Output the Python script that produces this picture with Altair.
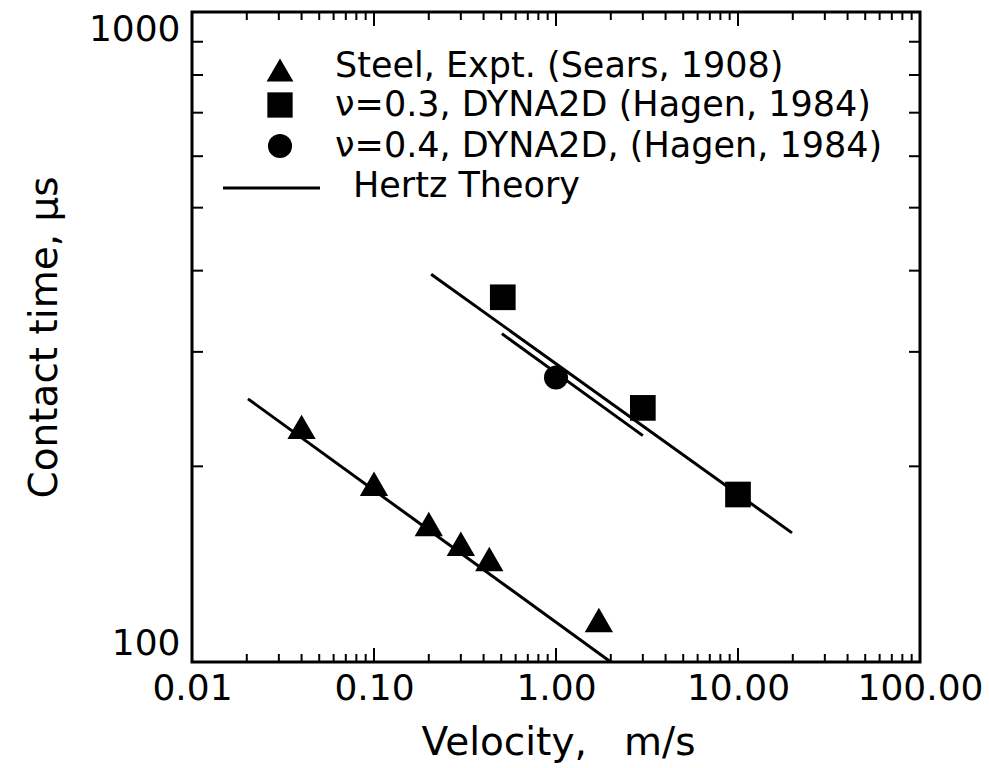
import altair as alt
import pandas as pd

# ---- data ----
steel_v = [0.04, 0.10, 0.20, 0.30, 0.43, 1.72]
steel_t = [230, 188, 163, 152, 144, 116]
nu03_v = [0.51, 3.0, 10.0]
nu03_t = [364, 246, 181]
nu04_v = [1.0]
nu04_t = [274]

hertz_low_v = [0.0203, 2.0]
hertz_low_t = [254, 100]
hertz_up_v = [0.206, 19.8]
hertz_up_t = [395, 158]
hertz_short_v = [0.504, 3.0]
hertz_short_t = [320, 223]

x_label_values = [0.01, 0.1, 1, 10, 100]
y_label_values = [100, 1000]
x_minor = [0.02, 0.03, 0.04, 0.05, 0.06, 0.07, 0.08, 0.09,
           0.2, 0.3, 0.4, 0.5, 0.6, 0.7, 0.8, 0.9,
           2, 3, 4, 5, 6, 7, 8, 9,
           20, 30, 40, 50, 60, 70, 80, 90]
y_minor = [200, 300, 400, 500, 600, 700, 800, 900]

legend_labels = ["Steel, Expt. (Sears, 1908)",
                 "\u03bd=0.3, DYNA2D (Hagen, 1984)",
                 "\u03bd=0.4, DYNA2D, (Hagen, 1984)",
                 "Hertz Theory"]

W, H = 728, 650
FONT = "DejaVu Sans"

xscale = alt.Scale(type="log", domain=[0.01, 100])
yscale = alt.Scale(type="log", domain=[100, 1000])

xaxis = alt.Axis(values=x_label_values, format=".2f", grid=False,
                 domain=False, ticks=False, labelFlush=False,
                 labelFont=FONT, labelFontSize=36, labelColor="black",
                 labelPadding=9,
                 title="Velocity,\u00a0\u00a0\u00a0m/s", titleFont=FONT,
                 titleFontSize=39, titleFontWeight="normal",
                 titleColor="black", titleX=W / 2 + 2, titleY=80,
                 titleBaseline="middle", titleAlign="center")
yaxis = alt.Axis(values=y_label_values, format="d", grid=False,
                 domain=False, ticks=False, labelFlush=True,
                 labelFont=FONT, labelFontSize=36, labelColor="black",
                 labelPadding=12,
                 title="Contact time, \u03bcs", titleFont=FONT,
                 titleFontSize=39, titleFontWeight="normal",
                 titleColor="black", titleAngle=-90, titleX=-148,
                 titleY=H / 2, titleBaseline="middle",
                 titleAlign="center")

steel_df = pd.DataFrame({"v": steel_v, "t": steel_t})
nu03_df = pd.DataFrame({"v": nu03_v, "t": nu03_t})
nu04_df = pd.DataFrame({"v": nu04_v, "t": nu04_t})
lines_df = pd.DataFrame({
    "v": hertz_low_v + hertz_up_v + hertz_short_v,
    "t": hertz_low_t + hertz_up_t + hertz_short_t,
    "seg": ["low"] * 2 + ["up"] * 2 + ["short"] * 2,
})

xmaj_df = pd.DataFrame({"v": x_label_values})
xmin_df = pd.DataFrame({"v": x_minor})
ymin_df = pd.DataFrame({"t": y_minor})

def X():
    return alt.X("v:Q", scale=xscale, axis=xaxis)

def Y():
    return alt.Y("t:Q", scale=yscale, axis=yaxis)

lines = alt.Chart(lines_df).mark_line(color="black", strokeWidth=3, clip=True).encode(
    x=X(), y=Y(), detail="seg:N")

tri = alt.Chart(steel_df).mark_point(shape="triangle-up", filled=True, size=800,
                                     color="black", opacity=1).encode(x=X(), y=Y())
sq = alt.Chart(nu03_df).mark_point(shape="square", filled=True, size=660,
                                   color="black", opacity=1).encode(x=X(), y=Y())
circ = alt.Chart(nu04_df).mark_point(shape="circle", filled=True, size=580,
                                     color="black", opacity=1).encode(x=X(), y=Y())

# inward ticks
def xticks(df, length):
    bottom = alt.Chart(df).mark_rule(color="black", strokeWidth=2).encode(
        x=X(), y=alt.value(H), y2=alt.value(H - length))
    top = alt.Chart(df).mark_rule(color="black", strokeWidth=2).encode(
        x=X(), y=alt.value(0), y2=alt.value(length))
    return [bottom, top]

def yticks(df, length):
    left = alt.Chart(df).mark_rule(color="black", strokeWidth=2).encode(
        y=Y(), x=alt.value(0), x2=alt.value(length))
    right = alt.Chart(df).mark_rule(color="black", strokeWidth=2).encode(
        y=Y(), x=alt.value(W), x2=alt.value(W - length))
    return [left, right]

ticks = xticks(xmaj_df, 14) + xticks(xmin_df, 8) + yticks(ymin_df, 11)

# legend (inside the plot, top-left)
leg_x_sym = 88
leg_x_txt = 143
leg_rows = [54, 93, 134]
leg_df = pd.DataFrame({"label": legend_labels})

def leg_text(i, x, y):
    return alt.Chart(leg_df).transform_filter(
        alt.datum.label == legend_labels[i]
    ).mark_text(font=FONT, fontSize=35, color="black", align="left",
                baseline="middle").encode(
        text="label:N", x=alt.value(x), y=alt.value(y))

def leg_one(i):
    return alt.Chart(leg_df).transform_filter(alt.datum.label == legend_labels[i])

leg_sym_tri = leg_one(0).mark_point(
    shape="triangle-up", filled=True, size=720, color="black", opacity=1).encode(
    x=alt.value(leg_x_sym), y=alt.value(leg_rows[0] + 4))
leg_sym_sq = leg_one(1).mark_point(
    shape="square", filled=True, size=640, color="black", opacity=1).encode(
    x=alt.value(leg_x_sym), y=alt.value(leg_rows[1]))
leg_sym_circ = leg_one(2).mark_point(
    shape="circle", filled=True, size=580, color="black", opacity=1).encode(
    x=alt.value(leg_x_sym), y=alt.value(leg_rows[2]))
leg_line = leg_one(3).mark_rule(color="black", strokeWidth=3).encode(
    x=alt.value(31), x2=alt.value(128), y=alt.value(176))

legend_layers = [leg_text(0, leg_x_txt, leg_rows[0]), leg_text(1, leg_x_txt, leg_rows[1]),
                 leg_text(2, leg_x_txt, leg_rows[2]), leg_text(3, 161, 174),
                 leg_sym_tri, leg_sym_sq, leg_sym_circ, leg_line]

chart = alt.layer(lines, tri, sq, circ, *ticks, *legend_layers).properties(
    width=W, height=H,
    autosize=alt.AutoSizeParams(type="none"),
    padding={"left": 192, "top": 12, "right": 69, "bottom": 106},
    background="white",
).configure_view(stroke="black", strokeWidth=3)

chart.save("out.html", embed_options={"renderer": "svg", "actions": False})
